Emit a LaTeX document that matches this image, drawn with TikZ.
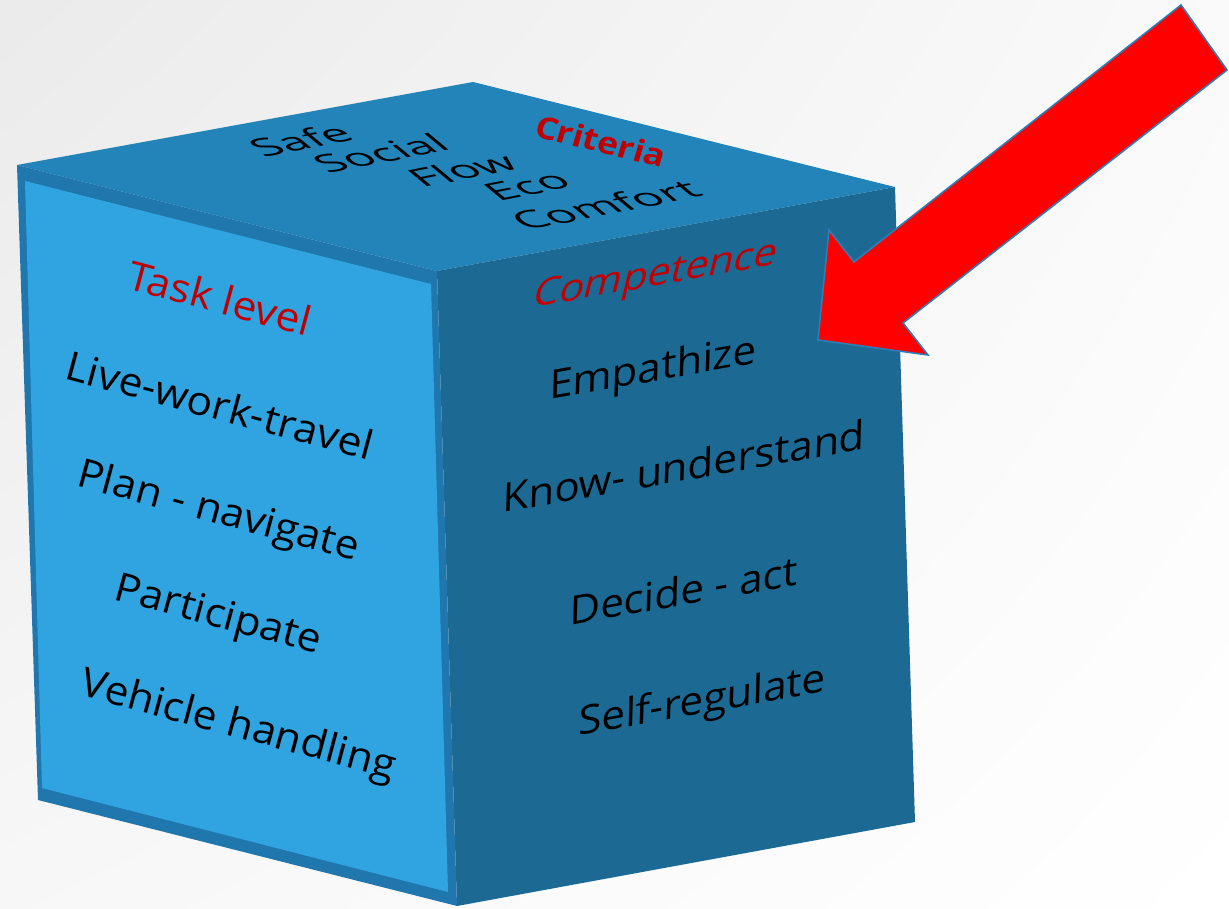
\documentclass[tikz,border=0pt]{standalone}
\usepackage{fontspec}
\usetikzlibrary{shadings}
\setmainfont{Open Sans}
\definecolor{topc}{HTML}{2384B9}
\definecolor{bandc}{HTML}{2077AD}
\definecolor{leftc}{HTML}{2FA4E0}
\definecolor{rightc}{HTML}{1C6A94}
\definecolor{txtred}{HTML}{C00000}
\definecolor{arrowline}{HTML}{2E7DB5}
\tikzset{
  facetxt/.style={inner sep=0pt, font=\fontsize{40}{42}\selectfont},
  lefttxt/.style={facetxt, cm={1.03,-0.276,0.259,0.966,(0,0)}},
  righttxt/.style={facetxt, cm={1.054,0.186,0.03,1.0,(0,0)}},
  comptxt/.style={facetxt, text=txtred, cm={1.03,0.182,0.24,0.97,(0,0)}},
  toptxt/.style={inner sep=0pt, font=\fontsize{38}{40}\selectfont, cm={1.22,0.24,-0.7,0.58,(0,0)}},
  crittxt/.style={inner sep=0pt, text=txtred, font=\fontsize{36}{40}\selectfont\bfseries, cm={0.95,-0.23,0.24,0.82,(0,0)}},
  face/.style={draw=none},
  bigarrow/.style={fill=red, draw=arrowline, line width=1.6pt, line join=miter}
}
\begin{document}
\begin{tikzpicture}[x=1pt,y=1pt]
\useasboundingbox (0,0) rectangle (1229,908);
\shade[upper left=black!8, upper right=black!2, lower left=black!3, lower right=white] (0,0) rectangle (1229,908);
% cube vertices
\coordinate (L) at (17,743);
\coordinate (B) at (473,826);
\coordinate (R) at (895,721);
\coordinate (F) at (437,637);
\coordinate (FB) at (457,2);
\coordinate (LB) at (38,108);
\coordinate (RB) at (915,86);
\coordinate (iL) at (25,727);
\coordinate (iF) at (431,624);
\coordinate (iFB) at (448,16);
\coordinate (iLB) at (42,120);
% faces
\fill[topc, face] (L) -- (B) -- (R) -- (F) -- cycle;
\fill[rightc, face] (F) -- (R) -- (RB) -- (FB) -- cycle;
\fill[bandc, face] (L) -- (F) -- (FB) -- (LB) -- cycle;
\fill[leftc, face] (iL) -- (iF) -- (iFB) -- (iLB) -- cycle;
% top face texts
\node[toptxt] (safe) at (300,768) {Safe};
\node[toptxt] (social) at (380,755) {Social};
\node[toptxt] (flow) at (462,738) {Flow};
\node[toptxt] (eco) at (527,722) {Eco};
\node[toptxt] (comfort) at (605,703) {Comfort};
\node[crittxt] (criteria) at (601,767) {Criteria};
% left face texts
\node[lefttxt, text=txtred] (task) at (220,610) {Task level};
\node[lefttxt] (live) at (220,503) {Live-work-travel};
\node[lefttxt] (plan) at (218,395) {Plan - navigate};
\node[lefttxt] (part) at (218,291) {Participate};
\node[lefttxt] (veh) at (238,181) {Vehicle handling};
% right face texts
\node[comptxt] (comp) at (655,631) {Competence};
\node[righttxt] (emp) at (653,537) {Empathize};
\node[righttxt] (know) at (684,442) {Know- understand};
\node[righttxt] (decide) at (684,318) {Decide - act};
\node[righttxt] (self) at (702,205) {Self-regulate};
% arrow
\coordinate (a1) at (1181,903);
\coordinate (a2) at (1227,838);
\coordinate (a3) at (903,585);
\coordinate (a4) at (928,553);
\coordinate (a5) at (818,568);
\coordinate (a6) at (829,678);
\coordinate (a7) at (854,646);
\draw[bigarrow] (a1) -- (a2) -- (a3) -- (a4) -- (a5) -- (a6) -- (a7) -- cycle;
\end{tikzpicture}
\end{document}
